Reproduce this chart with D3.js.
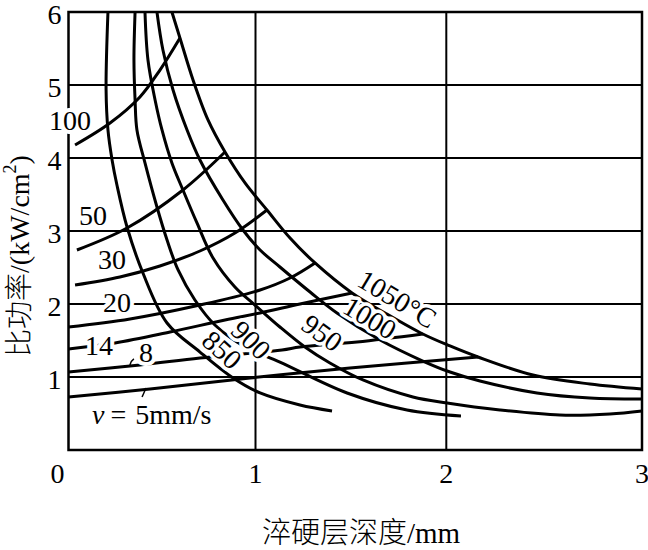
<!DOCTYPE html>
<html>
<head>
<meta charset="utf-8">
<script src="https://cdn.jsdelivr.net/npm/d3@7/dist/d3.min.js"></script>
<style>
body { margin:0; background:#fff; }
text { font-family:"Liberation Serif","Times New Roman","Noto Sans CJK SC",serif; fill:#000; }
</style>
</head>
<body>
<script>
// 淬硬层深度 (mm) vs 比功率 (kW/cm2), isotherms and scan speed lines
var xTicks = [0, 1, 2, 3];
var yTicks = [1, 2, 3, 4, 5, 6];

// isotherms, [depth mm, power kW/cm2]
var tempNames = ["850", "900", "950", "1000", "1050°C"];
var t850  = [[0.211,6.0],[0.201,4.932],[0.211,4.384],[0.233,3.973],[0.259,3.630],[0.313,3.055],[0.398,2.425],[0.527,1.740],[0.703,1.342],[0.880,0.986],[1.024,0.781],[1.233,0.616],[1.401,0.534]];
var t900  = [[0.356,6.0],[0.350,5.342],[0.356,4.795],[0.366,4.384],[0.409,3.932],[0.473,3.329],[0.527,2.877],[0.586,2.466],[0.676,2.055],[0.783,1.712],[0.944,1.411],[1.128,1.205],[1.480,0.781],[1.794,0.548],[2.075,0.466]];
var t950  = [[0.409,6.0],[0.425,5.342],[0.463,4.795],[0.500,4.384],[0.553,3.932],[0.612,3.562],[0.687,3.110],[0.773,2.630],[0.890,2.233],[0.997,1.986],[1.128,1.685],[1.259,1.411],[1.390,1.192],[1.563,0.959],[1.825,0.726],[2.004,0.644],[2.274,0.548],[2.580,0.479],[2.836,0.493],[3.0,0.534]];
var t1000 = [[0.473,6.0],[0.505,5.479],[0.559,4.932],[0.634,4.384],[0.703,3.973],[0.826,3.425],[0.933,3.014],[1.024,2.740],[1.128,2.507],[1.286,2.164],[1.427,1.877],[1.653,1.507],[1.877,1.219],[2.019,1.068],[2.172,0.945],[2.463,0.781],[2.734,0.712],[3.0,0.699]];
var t1050 = [[0.553,6.0],[0.596,5.644],[0.666,5.068],[0.746,4.521],[0.837,4.082],[0.944,3.658],[1.060,3.288],[1.181,2.904],[1.312,2.562],[1.506,2.151],[1.679,1.877],[1.877,1.589],[2.019,1.425],[2.162,1.274],[2.443,1.027],[2.734,0.904],[3.0,0.836]];

// speed lines, mm/s
var speedNames = ["100", "50", "30", "20", "14", "8", "5"];
var v100 = [[0.035,4.178],[0.222,4.479],[0.382,4.836],[0.489,5.205],[0.596,5.644]];
var v50  = [[0.045,2.740],[0.313,3.041],[0.612,3.562],[0.837,4.082]];
var v30  = [[0.035,2.260],[0.275,2.370],[0.489,2.521],[0.703,2.726],[0.890,2.973],[1.060,3.288]];
var v20  = [[0.0,1.685],[0.329,1.795],[0.703,1.986],[1.024,2.192],[1.181,2.356],[1.312,2.562]];
var v14  = [[0.0,1.384],[0.249,1.466],[0.543,1.616],[0.837,1.781],[1.024,1.877],[1.233,2.000],[1.506,2.151]];
var v8   = [[0.0,1.068],[0.382,1.164],[0.703,1.260],[1.139,1.370],[1.233,1.411],[1.532,1.479],[1.877,1.589]];
var v5   = [[0.0,0.726],[0.436,0.836],[0.971,0.986],[1.495,1.123],[2.162,1.274]];

// label anchors [depth, power]
var tempLabelPos  = [[0.821,1.370],[0.976,1.507],[1.349,1.603],[1.600,1.808],[1.742,2.068]];
var tempLabelRot  = [42, 44, 36, 31, 31];
var speedLabelPos = [[0.008,4.507],[0.131,3.219],[0.233,2.603],[0.259,2.014],[0.163,1.438],[0.414,1.329]];

var width = 648, height = 550;
var x = d3.scaleLinear().domain([0, 1, 2, 3]).range([68.5, 255.5, 446.3, 642]);
var y = d3.scaleLinear().domain([0, 6]).range([450, 12]);

var svg = d3.select("body").append("svg")
  .attr("width", width)
  .attr("height", height)
  .style("background", "#fff");

// grid
svg.selectAll(".gx").data([1, 2]).enter().append("line")
  .attr("x1", function(d){ return x(d); }).attr("x2", function(d){ return x(d); })
  .attr("y1", y(0)).attr("y2", y(6))
  .attr("stroke", "#000").attr("stroke-width", 2);
svg.selectAll(".gy").data([1, 2, 3, 4, 5]).enter().append("line")
  .attr("x1", x(0)).attr("x2", x(3))
  .attr("y1", function(d){ return y(d); }).attr("y2", function(d){ return y(d); })
  .attr("stroke", "#000").attr("stroke-width", 2);
svg.append("rect")
  .attr("x", x(0)).attr("y", y(6))
  .attr("width", x(3) - x(0)).attr("height", y(0) - y(6))
  .attr("fill", "none").attr("stroke", "#000").attr("stroke-width", 2.5);

// tick labels
svg.selectAll(".xt").data(xTicks).enter().append("text")
  .attr("x", function(d){ return x(d) + (d === 0 ? -11 : 0); })
  .attr("y", y(0) + 23)
  .attr("text-anchor", "middle")
  .attr("dominant-baseline", "central")
  .attr("font-size", 28)
  .text(function(d){ return d; });
svg.selectAll(".yt").data(yTicks).enter().append("text")
  .attr("x", x(0) - 7)
  .attr("y", function(d){ return y(d) + 2; })
  .attr("text-anchor", "end")
  .attr("dominant-baseline", "central")
  .attr("font-size", 28)
  .text(function(d){ return d; });

// axis titles
svg.append("text")
  .attr("x", 361).attr("y", 533)
  .attr("text-anchor", "middle")
  .attr("dominant-baseline", "central")
  .attr("font-size", 29)
  .attr("font-weight", 300)
  .text("淬硬层深度/mm");
var yt = svg.append("text")
  .attr("transform", "translate(19,256) rotate(-90)")
  .attr("text-anchor", "middle")
  .attr("dominant-baseline", "central")
  .attr("font-size", 28)
  .attr("font-weight", 300);
yt.append("tspan").text("比功率/(kW/cm");
yt.append("tspan").attr("dy", -9).attr("font-size", 18).text("2");
yt.append("tspan").attr("dy", 9).text(")");

// curves
var line = d3.line()
  .x(function(d){ return x(d[0]); })
  .y(function(d){ return y(d[1]); })
  .curve(d3.curveCatmullRom.alpha(0.5));

var temps = [t850, t900, t950, t1000, t1050];
var speeds = [v100, v50, v30, v20, v14, v8, v5];

svg.selectAll(".iso").data(temps).enter().append("path")
  .attr("d", line)
  .attr("fill", "none").attr("stroke", "#000").attr("stroke-width", 3);
svg.selectAll(".spd").data(speeds).enter().append("path")
  .attr("d", line)
  .attr("fill", "none").attr("stroke", "#000").attr("stroke-width", 3);

// leader ticks for 8 and 5
svg.append("path")
  .attr("d", "M" + (x(0.414) - 16) + "," + (y(1.329) + 12) + " q1,-4 4,-6")
  .attr("fill", "none").attr("stroke", "#000").attr("stroke-width", 1.5);
svg.append("path")
  .attr("d", "M" + (x(0.126) + 54) + "," + (y(0.356) - 36) + " l-4,9")
  .attr("fill", "none").attr("stroke", "#000").attr("stroke-width", 1.5);

// labels with white halo
svg.selectAll(".tl").data(tempNames).enter().append("text")
  .attr("transform", function(d, i){
    return "translate(" + x(tempLabelPos[i][0]) + "," + y(tempLabelPos[i][1]) + ") rotate(" + tempLabelRot[i] + ")";
  })
  .attr("text-anchor", "middle")
  .attr("dominant-baseline", "central")
  .attr("font-size", 28)
  .attr("stroke", "#fff").attr("stroke-width", 7)
  .attr("stroke-linejoin", "round")
  .attr("paint-order", "stroke")
  .text(function(d){ return d; });

svg.selectAll(".sl").data(speedNames.slice(0, 6)).enter().append("text")
  .attr("x", function(d, i){ return x(speedLabelPos[i][0]); })
  .attr("y", function(d, i){ return y(speedLabelPos[i][1]); })
  .attr("text-anchor", "middle")
  .attr("dominant-baseline", "central")
  .attr("font-size", 28)
  .attr("stroke", "#fff").attr("stroke-width", 8)
  .attr("stroke-linejoin", "round")
  .attr("paint-order", "stroke")
  .text(function(d){ return d; });

var vl = svg.append("text")
  .attr("x", x(0.126)).attr("y", y(0.356))
  .attr("font-size", 28);
vl.append("tspan").attr("font-style", "italic").text("v");
vl.append("tspan").attr("dx", 6).text("=");
vl.append("tspan").attr("dx", 9).text(speedNames[6] + "mm/s");
</script>
</body>
</html>
